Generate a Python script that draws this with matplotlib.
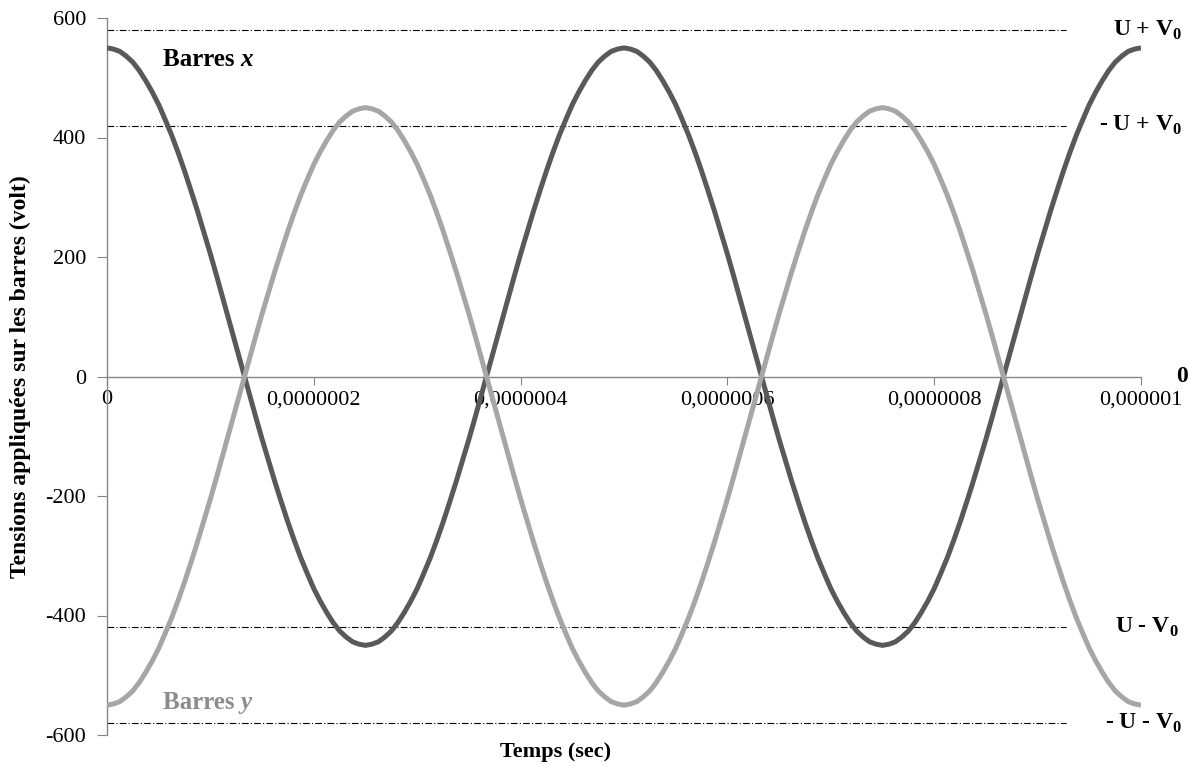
#!/usr/bin/env python3
"""Tensions appliquées sur les barres x et y en fonction du temps."""

import matplotlib
matplotlib.use("Agg")
import matplotlib.pyplot as plt
from matplotlib.ticker import FixedLocator

# temps en secondes (pas de 0,00000000625 s)
temps = [i * 6.25e-9 for i in range(161)]

# tension sur les barres x (volt)
barres_x = [
    550, 548, 544, 536, 526, 512, 495, 476, 455, 430,
    404, 375, 344, 311, 277, 241, 205, 167, 128, 89,
    50, 11, -28, -67, -105, -141, -177, -211, -244, -275,
    -304, -330, -355, -376, -395, -412, -426, -436, -444, -448,
    -450, -448, -444, -436, -426, -412, -395, -376, -355, -330,
    -304, -275, -244, -211, -177, -141, -105, -67, -28, 11,
    50, 89, 128, 167, 205, 241, 277, 311, 344, 375,
    404, 430, 455, 476, 495, 512, 526, 536, 544, 548,
    550, 548, 544, 536, 526, 512, 495, 476, 455, 430,
    404, 375, 344, 311, 277, 241, 205, 167, 128, 89,
    50, 11, -28, -67, -105, -141, -177, -211, -244, -275,
    -304, -330, -355, -376, -395, -412, -426, -436, -444, -448,
    -450, -448, -444, -436, -426, -412, -395, -376, -355, -330,
    -304, -275, -244, -211, -177, -141, -105, -67, -28, 11,
    50, 89, 128, 167, 205, 241, 277, 311, 344, 375,
    404, 430, 455, 476, 495, 512, 526, 536, 544, 548,
    550,
]

# tension sur les barres y (volt)
barres_y = [
    -550, -548, -544, -536, -526, -512, -495, -476, -455, -430,
    -404, -375, -344, -311, -277, -241, -205, -167, -128, -89,
    -50, -11, 28, 67, 105, 141, 177, 211, 244, 275,
    304, 330, 355, 376, 395, 412, 426, 436, 444, 448,
    450, 448, 444, 436, 426, 412, 395, 376, 355, 330,
    304, 275, 244, 211, 177, 141, 105, 67, 28, -11,
    -50, -89, -128, -167, -205, -241, -277, -311, -344, -375,
    -404, -430, -455, -476, -495, -512, -526, -536, -544, -548,
    -550, -548, -544, -536, -526, -512, -495, -476, -455, -430,
    -404, -375, -344, -311, -277, -241, -205, -167, -128, -89,
    -50, -11, 28, 67, 105, 141, 177, 211, 244, 275,
    304, 330, 355, 376, 395, 412, 426, 436, 444, 448,
    450, 448, 444, 436, 426, 412, 395, 376, 355, 330,
    304, 275, 244, 211, 177, 141, 105, 67, 28, -11,
    -50, -89, -128, -167, -205, -241, -277, -311, -344, -375,
    -404, -430, -455, -476, -495, -512, -526, -536, -544, -548,
    -550,
]

# niveaux de référence
niveaux = [580, 420, -420, -580]
niveaux_labels = [r"U + V$_\mathbf{0}$", r"- U + V$_\mathbf{0}$",
                  r"U - V$_\mathbf{0}$", r"- U - V$_\mathbf{0}$"]
niveaux_pos = [1.006e-6, 1.0e-6, 1.006e-6, 1.003e-6]
niveaux_x = [0, 9.27e-7]

x_ticks = [0, 2e-7, 4e-7, 6e-7, 8e-7, 1e-6]
x_ticklabels = ["0", "0,0000002", "0,0000004", "0,0000006", "0,0000008", "0,000001"]
y_ticks = [-600, -400, -200, 0, 200, 400, 600]

plt.rcParams["font.family"] = ["Liberation Serif", "DejaVu Serif"]
plt.rcParams["mathtext.fontset"] = "custom"
plt.rcParams["mathtext.rm"] = "Liberation Serif"
plt.rcParams["mathtext.bf"] = "Liberation Serif:bold"

W, H = 1189, 766
fig = plt.figure(figsize=(W / 100, H / 100), dpi=100)
ax = fig.add_axes([107 / W, 1 - 735 / H, (1141 - 107) / W, (735 - 18) / H])

ax.plot(temps, barres_x, color="#595959", linewidth=3.6, solid_capstyle="butt",
        solid_joinstyle="round", zorder=3)
ax.plot(temps, barres_y, color="#a6a6a6", linewidth=3.6, solid_capstyle="butt",
        solid_joinstyle="round", zorder=3)

for niv in niveaux:
    ax.plot(niveaux_x, [niv, niv], color="black", linewidth=0.8,
            linestyle=(0, (6, 2, 1, 2)), zorder=2)

ax.set_xlim(0, 1e-6)
ax.set_ylim(-600, 600)

ax.spines["top"].set_visible(False)
ax.spines["right"].set_visible(False)
ax.spines["bottom"].set_position(("data", 0))
for s in ("left", "bottom"):
    ax.spines[s].set_color("#868686")
    ax.spines[s].set_linewidth(1)

ax.yaxis.set_major_locator(FixedLocator(y_ticks))
ax.set_yticklabels([str(v) for v in y_ticks])
ax.xaxis.set_major_locator(FixedLocator(x_ticks))
ax.set_xticklabels(x_ticklabels)
ax.tick_params(axis="y", direction="out", length=7, color="#868686", labelsize=16, pad=8)
ax.tick_params(axis="x", direction="out", length=6, color="#868686", labelsize=16, pad=4)

fig.text(20 / W, 1 - 377 / H, "Tensions appliquées sur les barres (volt)", fontsize=17,
         fontweight="bold", rotation=90, ha="center", va="center")
fig.text(556 / W, 1 - 752 / H, "Temps (sec)", fontsize=16, fontweight="bold",
         ha="center", va="center")

# étiquettes des courbes : "Barres " en gras, lettre en gras italique
for y, lettre, couleur in [(530, "x", "black"), (-545, "y", "#8c8c8c")]:
    t = ax.text(0.54e-7, y, "Barres ", fontsize=18, fontweight="bold", color=couleur,
                ha="left", va="center")
    ax.annotate(lettre, xy=(1, 0), xycoords=t, fontsize=18, fontweight="bold",
                fontstyle="italic", color=couleur, ha="left", va="bottom")

for niv, lab, xp in zip(niveaux, niveaux_labels, niveaux_pos):
    ax.text(xp, niv, lab, fontsize=17, fontweight="bold",
            ha="center", va="center", clip_on=False)
ax.text(1.04e-6, 0, "0", fontsize=17, fontweight="bold", ha="center", va="center", clip_on=False)

fig.savefig("out.png", dpi=100)
